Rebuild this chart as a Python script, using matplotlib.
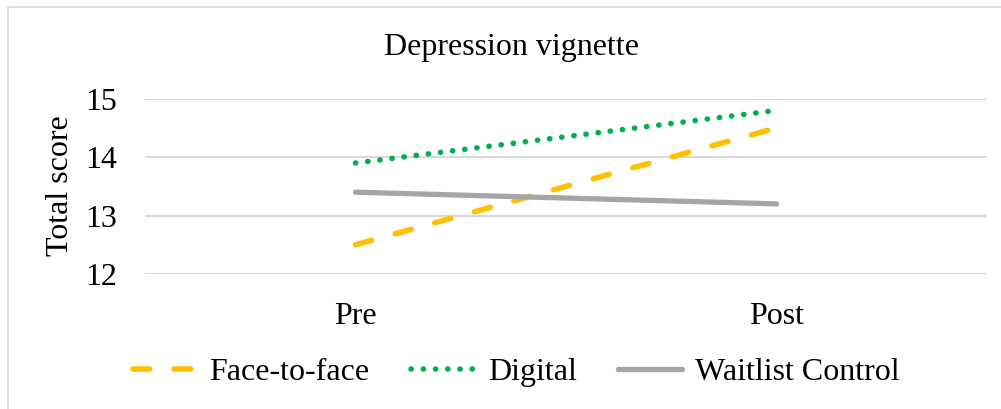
import matplotlib.pyplot as plt
from matplotlib.patches import Rectangle

# data
phases = ['Pre', 'Post']
face_to_face = [12.5, 14.5]
digital = [13.9, 14.8]
waitlist = [13.4, 13.2]
y_ticks = [12, 13, 14, 15]

plt.rcParams['font.family'] = ['Liberation Serif', 'DejaVu Serif']

W, H = 1001, 409
fig = plt.figure(figsize=(W / 100, H / 100), dpi=100)

# thin chart border (left and top visible)
fig.patches.append(Rectangle((8 / W, -0.1), 1.2, (H - 7) / H + 0.1,
                             transform=fig.transFigure, fill=False,
                             edgecolor='#D9D9D9', linewidth=1.2))

ax = fig.add_axes([145 / W, (H - 274) / H, (987 - 145) / W, (274 - 98.7) / H])

x = range(len(phases))
ax.plot(x, face_to_face, color='#FFC000', lw=4.0, dashes=(3.0, 4.4),
        dash_capstyle='round', label='Face-to-face')
ax.plot(x, digital, color='#00B050', lw=4.0, dashes=(0.05, 2.15),
        dash_capstyle='round', label='Digital')
ax.plot(x, waitlist, color='#A5A5A5', lw=3.8, solid_capstyle='round',
        label='Waitlist Control')

ax.set_xlim(-0.5, 1.5)
ax.set_ylim(12, 15)
ax.set_xticks(list(x))
ax.set_xticklabels(phases)
ax.set_yticks(y_ticks)
ax.tick_params(axis='both', length=0, labelsize=23)
ax.tick_params(axis='y', pad=20)
ax.tick_params(axis='x', pad=20)
ax.grid(axis='y', color='#D9D9D9', lw=1.5)
ax.set_axisbelow(True)
for s in ax.spines.values():
    s.set_visible(False)

fig.text(61 / W, 1 - 186 / H, 'Total score', rotation=90, ha='center',
         va='center', fontsize=23)
fig.text(511 / W, 1 - 47 / H, 'Depression vignette', ha='center',
         va='center', fontsize=23)

fig.legend(loc='center', bbox_to_anchor=(516 / W, 1 - 372 / H), ncol=3,
           frameon=False, fontsize=23, handlelength=2.0, handletextpad=0.4,
           columnspacing=1.3)

fig.savefig('out.png', dpi=100)
